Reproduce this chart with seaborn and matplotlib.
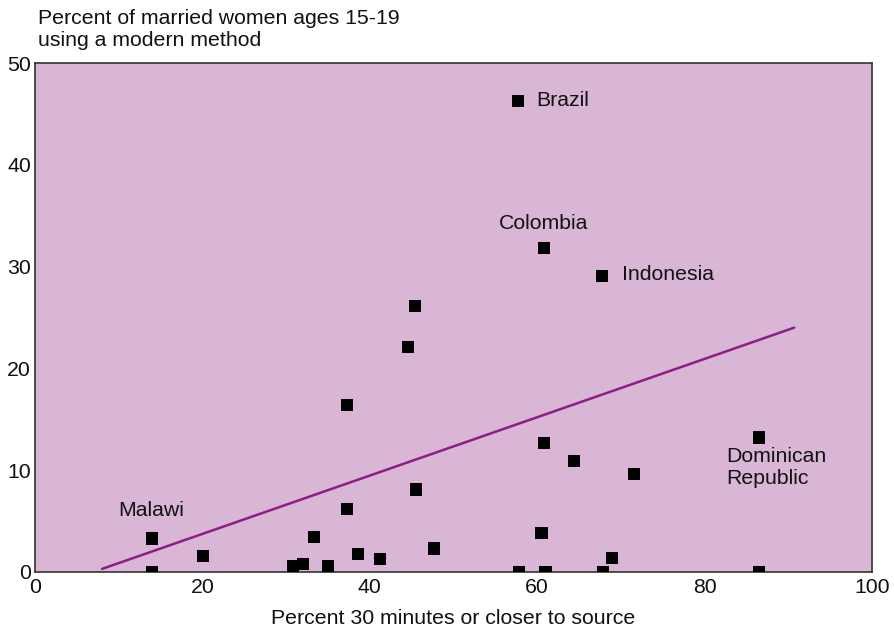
import numpy as np
import pandas as pd
import seaborn as sns
import matplotlib.pyplot as plt

# access to a source (x) vs modern method use among married teens (y)
access_pct = [57.7, 60.8, 67.7, 45.4, 44.6, 37.3, 86.5, 60.8, 64.4, 71.6,
              45.5, 37.3, 60.5, 14.0, 33.3, 20.1, 38.6, 41.2, 47.7, 68.9,
              30.8, 32.0, 35.0, 14.0, 57.8, 61.0, 67.9, 86.5]
modern_use = [46.3, 31.8, 29.1, 26.1, 22.1, 16.4, 13.2, 12.7, 10.9, 9.6,
              8.1, 6.2, 3.8, 3.3, 3.4, 1.6, 1.8, 1.3, 2.3, 1.4,
              0.6, 0.8, 0.6, 0.0, 0.0, 0.0, 0.0, 0.0]

# fitted trend line end points
trend_x = [8.0, 90.7]
trend_y = [0.3, 24.0]

# country labels: text, x, y, alignment
labels = ["Brazil", "Colombia", "Indonesia", "Dominican\nRepublic", "Malawi"]
label_x = [59.9, 60.7, 70.1, 82.6, 9.9]
label_y = [46.3, 34.2, 29.2, 10.3, 6.0]
label_ha = ["left", "center", "left", "left", "left"]

x_ticks = [0, 20, 40, 60, 80, 100]
y_ticks = [0, 10, 20, 30, 40, 50]

sns.set_theme(style="white")
plt.rcParams['font.family'] = ['Liberation Sans', 'DejaVu Sans']

df = pd.DataFrame({"access": access_pct, "use": modern_use})
trend = pd.DataFrame({"x": trend_x, "y": trend_y})

fig = plt.figure(figsize=(8.94, 6.39), dpi=100)
ax = fig.add_axes([0.0392, 0.1049, 0.9362, 0.7965])
ax.set_facecolor("#D9B6D6")

sns.lineplot(data=trend, x="x", y="y", ax=ax, color="#8E1D85", lw=1.8)
sns.scatterplot(data=df, x="access", y="use", ax=ax, marker="s", s=78,
                color="black", edgecolor="none", zorder=3)

for txt, lx, ly, ha in zip(labels, label_x, label_y, label_ha):
    ax.text(lx, ly, txt, ha=ha, va="center", fontsize=15.3, color="#111111",
            linespacing=1.2)

ax.set_xlim(0, 100)
ax.set_ylim(0, 50)
ax.set_xticks(x_ticks)
ax.set_xticklabels([str(t) for t in x_ticks],
                   fontfamily=['Liberation Sans Narrow', 'Liberation Sans'])
ax.set_yticks(y_ticks)
ax.tick_params(axis="both", direction="in", length=6, width=1, color="#333333",
               labelsize=15.3, labelcolor="#111111", pad=3)
ax.tick_params(axis="x", pad=4)
ax.set_xlabel("")
ax.set_ylabel("")
for sp in ax.spines.values():
    sp.set_color("#333333")
    sp.set_linewidth(1.2)

fig.text(38 / 894, 1 - 9 / 639, "Percent of married women ages 15-19\nusing a modern method",
         ha="left", va="top", fontsize=15.3, color="#111111", linespacing=1.2)
fig.text(453 / 894, 1 - 619 / 639, "Percent 30 minutes or closer to source",
         ha="center", va="center", fontsize=15.3, color="#111111")

fig.savefig("out.png", dpi=100)
